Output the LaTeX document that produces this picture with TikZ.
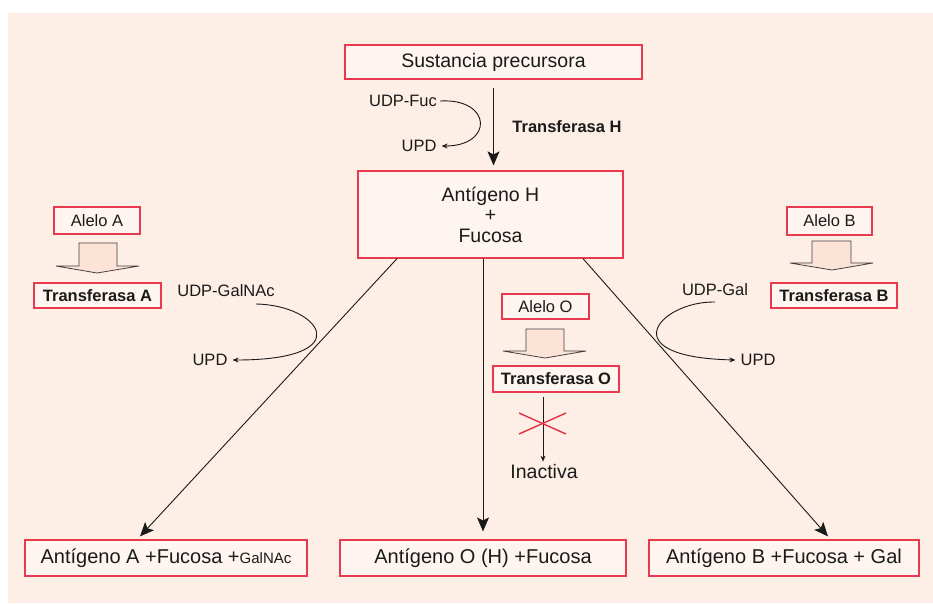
\documentclass[tikz,border=0pt]{standalone}
\usepackage{fontspec}
\setmainfont{Liberation Sans}
\usetikzlibrary{arrows.meta}
\definecolor{bgc}{HTML}{FDEEE6}
\definecolor{boxfill}{HTML}{FEF5F0}
\definecolor{boxred}{HTML}{E8394F}
\definecolor{arrfill}{HTML}{FCE3D6}
\definecolor{ink}{HTML}{1A1A1A}
\definecolor{xred}{HTML}{E5303F}
\begin{document}
\begin{tikzpicture}[x=1pt,y=-1pt,
  box/.style={draw=boxred, line width=1.2pt, fill=boxfill, inner sep=0pt, text=ink},
  big/.style={font=\fontsize{19.5}{22}\selectfont, text=ink},
  bot/.style={font=\fontsize{20}{23}\selectfont, text=ink},
  sm/.style={font=\fontsize{16.5}{19}\selectfont, text=ink},
  smb/.style={font=\bfseries\fontsize{16.5}{19}\selectfont, text=ink},
  bigarrow/.style={draw=ink, line width=0.9pt, -{Stealth[length=14pt,width=12pt,inset=3pt]}},
  smallarrow/.style={draw=ink, line width=0.9pt, -{Stealth[length=6pt,width=5pt]}},
  blockarrow/.style={draw=black!75, line width=0.8pt, fill=arrfill}]
\useasboundingbox (0,0) rectangle (933,603);
\fill[bgc] (8,13) rectangle (933,603);

% main boxes
\node[box, big, minimum width=297, minimum height=34] (sust) at (493.5,62) {Sustancia precursora};
\node[box, minimum width=265, minimum height=87, align=center, font=\fontsize{19.5}{20.5}\selectfont] (antH) at (490.5,214.5) {Antígeno H\\+\\Fucosa};

% Transferasa H step
\node[sm, inner sep=0pt] (fuc) at (403,101) {UDP-Fuc};
\node[sm, inner sep=0pt] (upd1) at (419,146) {UPD};
\node[smb, inner sep=0pt] (trH) at (567,127) {Transferasa H};
\draw[smallarrow] ([xshift=3pt]fuc.east) .. controls (492,98) and (494,146) .. ([xshift=5pt]upd1.east);
\draw[bigarrow, shorten <=8pt, shorten >=5pt] (sust.south) -- (sust.south |- antH.north);

% allele A
\node[box, sm, minimum width=86, minimum height=27] (alA) at (97,220.5) {Alelo A};
\filldraw[blockarrow] (79,243) -- (117,243) -- (117,266) -- (139,266) -- (97,273) -- (56,266) -- (79,266) -- cycle;
\node[box, smb, minimum width=127, minimum height=25] (trA) at (97.5,295.5) {Transferasa A};
\node[sm, inner sep=0pt] (galnac) at (226,291) {UDP-GalNAc};
\node[sm, inner sep=0pt] (upd2) at (210,360) {UPD};
\draw[smallarrow] (256,304) .. controls (320,305) and (360,360) .. ([xshift=5pt]upd2.east);

% allele B
\node[box, sm, minimum width=85, minimum height=28] (alB) at (829.5,221) {Alelo B};
\filldraw[blockarrow] (812,241) -- (851,241) -- (851,263) -- (873,263) -- (832,270) -- (790,263) -- (812,263) -- cycle;
\node[box, smb, minimum width=126, minimum height=25] (trB) at (834,295.5) {Transferasa B};
\node[sm, inner sep=0pt] (gal) at (715,290) {UDP-Gal};
\node[sm, inner sep=0pt] (upd3) at (758,360) {UPD};
\draw[smallarrow] (715,302) .. controls (660,301) and (610,357) .. ([xshift=-5pt]upd3.west);

% allele O
\node[box, sm, minimum width=87, minimum height=25] (alO) at (545.5,306.5) {Alelo O};
\filldraw[blockarrow] (526,329) -- (564,329) -- (564,351) -- (586,351) -- (545,358) -- (503,351) -- (526,351) -- cycle;
\node[box, smb, minimum width=126, minimum height=26] (trO) at (556,379) {Transferasa O};
\node[big, inner sep=0pt] (inact) at (544,472) {Inactiva};
\coordinate (ia) at (543,397);
\draw[smallarrow] (ia) -- ([yshift=3pt]ia |- inact.north);
\draw[xred, line width=1.4pt] (519,413) -- (566,434);
\draw[xred, line width=1.4pt] (519,434) -- (566,413);

% bottom boxes
\node[box, bot, minimum width=282, minimum height=36] (antA) at (166,558) {Antígeno A +Fucosa +{\fontsize{15}{18}\selectfont GalNAc}};
\node[box, bot, minimum width=286, minimum height=36] (antO) at (483,558) {Antígeno O (H) +Fucosa};
\node[box, bot, minimum width=270, minimum height=36] (antB) at (784,558) {Antígeno B +Fucosa + Gal};

% product arrows
\draw[bigarrow] ([xshift=-93.5pt]antH.south) -- ([xshift=-26pt, yshift=3pt]antA.north);
\draw[bigarrow] (antO.north |- antH.south) -- ([yshift=8pt]antO.north);
\draw[bigarrow] ([xshift=92.5pt]antH.south) -- ([xshift=44pt, yshift=3pt]antB.north);
\end{tikzpicture}
\end{document}
